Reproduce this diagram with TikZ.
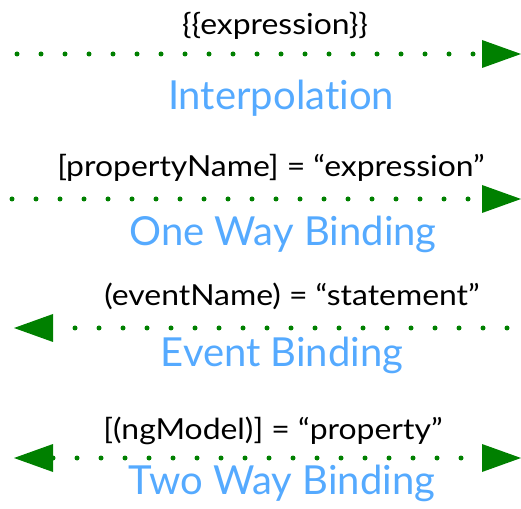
\documentclass[tikz,border=0pt]{standalone}
\usepackage{fontspec}
\setmainfont{Lato}[Ligatures=NoCommon]
\newfontfamily\syntaxfont{Lato}[FakeStretch=1.1]
\usetikzlibrary{arrows.meta}
\definecolor{bindgreen}{HTML}{008000}
\definecolor{bindblue}{HTML}{55AAFF}
\tikzset{
  dots/.style={draw=bindgreen, line width=5pt, line cap=round,
    dash pattern=on 0pt off 24pt},
  head/.style={arrows={-Triangle[length=39pt,width=28pt,line width=0pt]}},
  heads/.style={arrows={Triangle[length=39pt,width=28pt,line width=0pt]-Triangle[length=39pt,width=28pt,line width=0pt]}},
  syntax/.style={anchor=base, font=\syntaxfont\fontsize{29}{32}\selectfont},
  kind/.style={anchor=base, text=bindblue, font=\fontsize{40}{44}\selectfont}
}
\begin{document}
\begin{tikzpicture}[x=1pt,y=1pt]
  \useasboundingbox (0,0) rectangle (521,508);
  \node[syntax] (interpexpr) at (275,473) {\{\{expression\}\}};
  \node[kind] (interp) at (281,398) {Interpolation};
  \node[syntax] (oneexpr) at (271,331) {[propertyName] = “expression”};
  \node[kind] (oneway) at (283,262) {One Way Binding};
  \node[syntax] (eventexpr) at (292,202) {(eventName) = “statement”};
  \node[kind] (event) at (282,141) {Event Binding};
  \node[syntax] (twoexpr) at (273,68) {[(ngModel)] = “property”};
  \node[kind] (twoway) at (282,14) {Two Way Binding};
  \coordinate (i1) at (17,454);
  \coordinate (i2) at (521,454);
  \coordinate (o1) at (12,309);
  \coordinate (o2) at (521,309);
  \coordinate (e1) at (507,180);
  \coordinate (e2) at (14,180);
  \coordinate (t1) at (14,50);
  \coordinate (t2) at (521,50);
  \begin{scope}[dots]
    \draw[head] (i1) to (i2);
    \draw[head] (o1) to (o2);
    \draw[head] (e1) to (e2);
    \draw[heads] (t1) to (t2);
  \end{scope}
\end{tikzpicture}
\end{document}
